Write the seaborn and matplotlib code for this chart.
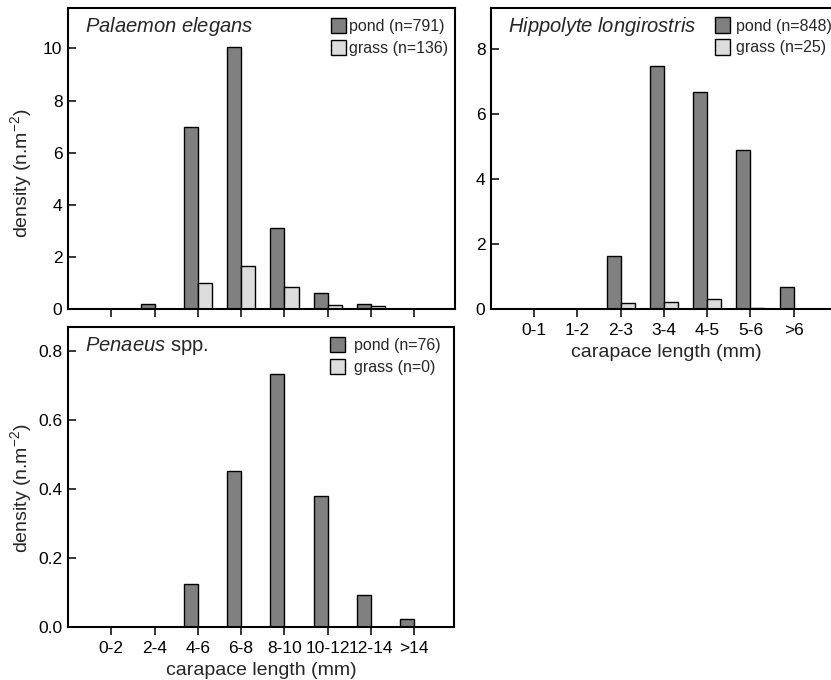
import matplotlib
matplotlib.use('Agg')
import matplotlib.pyplot as plt
import seaborn as sns
import pandas as pd
from matplotlib.patches import Patch

# ---- data ----
pal_cats = ['0-2', '2-4', '4-6', '6-8', '8-10', '10-12', '12-14', '>14']
pal_pond = [0, 0.18, 6.97, 10.04, 3.09, 0.61, 0.18, 0]
pal_grass = [0, 0, 1.01, 1.64, 0.86, 0.15, 0.12, 0]
pal_labels = ['pond (n=791)', 'grass (n=136)']

hip_cats = ['0-1', '1-2', '2-3', '3-4', '4-5', '5-6', '>6']
hip_pond = [0, 0, 1.63, 7.48, 6.68, 4.89, 0.68]
hip_grass = [0, 0, 0.17, 0.20, 0.30, 0.03, 0]
hip_labels = ['pond (n=848)', 'grass (n=25)']

pen_cats = ['0-2', '2-4', '4-6', '6-8', '8-10', '10-12', '12-14', '>14']
pen_pond = [0, 0, 0.124, 0.452, 0.733, 0.379, 0.092, 0.024]
pen_grass = [0, 0, 0, 0, 0, 0, 0, 0]
pen_labels = ['pond (n=76)', 'grass (n=0)']

POND = '#808080'
GRASS = '#dcdcdc'

sns.set_theme(style='ticks')
plt.rcParams['font.family'] = ['Liberation Sans', 'DejaVu Sans']
plt.rcParams['mathtext.fontset'] = 'custom'
plt.rcParams['mathtext.rm'] = 'Liberation Sans'
plt.rcParams['mathtext.it'] = 'Liberation Sans:italic'
plt.rcParams['mathtext.default'] = 'rm'

W, H = 831, 680
fig = plt.figure(figsize=(W / 100, H / 100), dpi=100)


def px_axes(left, top, right, bottom):
    return fig.add_axes([left / W, 1 - bottom / H, (right - left) / W, (bottom - top) / H])


def panel(ax, cats, pond, grass, labels, xlim, ylim, yticks, fmt, title,
          title_x, leg_xy, tpad, ylab_y, xlabel=True, ylabel=True,
          xticklabels=True):
    n = len(cats)
    df = pd.DataFrame({
        'size': cats + cats,
        'habitat': ['pond'] * n + ['grass'] * n,
        'density': pond + grass,
    })
    sns.barplot(data=df, x='size', y='density', hue='habitat', order=cats,
                hue_order=['pond', 'grass'],
                palette={'pond': POND, 'grass': GRASS}, saturation=1,
                width=0.65, gap=0, edgecolor='black', linewidth=1.0,
                errorbar=None, legend=False, ax=ax)
    ax.set_xlim(*xlim)
    ax.set_ylim(*ylim)
    ax.set_yticks(yticks)
    ax.set_yticklabels([fmt.format(v) for v in yticks])
    for s in ax.spines.values():
        s.set_linewidth(1.5)
        s.set_color('black')
    ax.tick_params(axis='x', direction='out', length=6, width=1.1,
                   labelsize=12.5, pad=4.2, colors='black',
                   labelbottom=xticklabels)
    ax.tick_params(axis='y', direction='in', length=6, width=1.1,
                   labelsize=12.5, pad=4, colors='black')
    ax.set_xlabel('carapace length (mm)' if xlabel else '', fontsize=14,
                  labelpad=4)
    if ylabel:
        ax.set_ylabel(r'density (n.m$^{-2}$)', fontsize=14)
        ax.yaxis.set_label_coords(-0.087, ylab_y)
    else:
        ax.set_ylabel('')
    ax.text(title_x, 0.92, title, transform=ax.transAxes,
            fontsize=14.5, ha='left', va='baseline')
    handles = [Patch(facecolor=POND, edgecolor='black', linewidth=1.0),
               Patch(facecolor=GRASS, edgecolor='black', linewidth=1.0)]
    ax.legend(handles, labels, loc='upper left', bbox_to_anchor=leg_xy,
              frameon=False, borderpad=0, borderaxespad=0, fontsize=11.5,
              handlelength=0.92, handleheight=1.12, handletextpad=tpad,
              labelspacing=0.36)


ax1 = px_axes(68, 8, 455, 309)
panel(ax1, pal_cats, pal_pond, pal_grass, pal_labels, (-1, 7.94), (0, 11.55),
      [0, 2, 4, 6, 8, 10], '{:g}', r'$\mathit{Palaemon\ elegans}$', 0.045,
      (0.6796, 0.967), 0.2, 0.453, xlabel=False, xticklabels=False)

ax2 = px_axes(491, 8, 842, 309)
panel(ax2, hip_cats, hip_pond, hip_grass, hip_labels, (-1, 7.12), (0, 9.26),
      [0, 2, 4, 6, 8], '{:g}', r'$\mathit{Hippolyte\ longirostris}$', 0.049,
      (0.638, 0.969), 0.4, 0.5, ylabel=False)

ax3 = px_axes(68, 327, 454, 627)
panel(ax3, pen_cats, pen_pond, pen_grass, pen_labels, (-1, 7.92), (0, 0.868),
      [0.0, 0.2, 0.4, 0.6, 0.8], '{:.1f}', r'$\mathit{Penaeus}$ spp.', 0.045,
      (0.679, 0.968), 0.58, 0.463)

fig.savefig('out.png', dpi=100)
